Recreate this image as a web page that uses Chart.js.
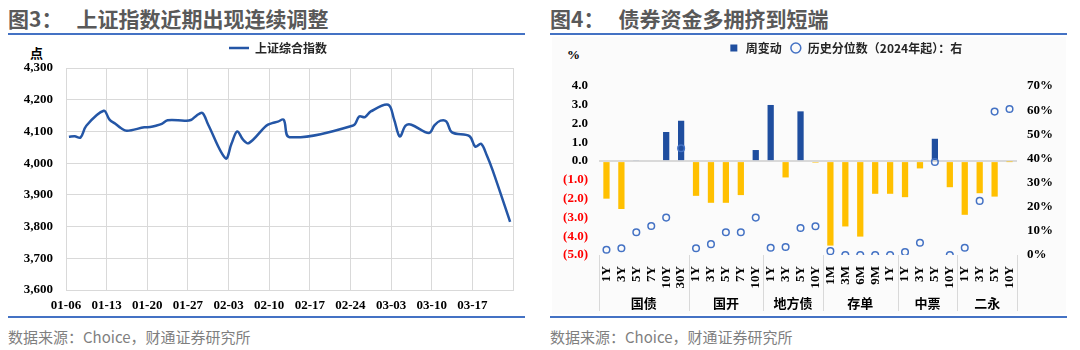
<!DOCTYPE html>
<html>
<head>
<meta charset="utf-8">
<script src="https://cdn.jsdelivr.net/npm/chart.js@4.4.1/dist/chart.umd.min.js"></script>
<style>
  body { margin: 0; width: 1080px; height: 350px; background: #fff; position: relative; overflow: hidden; font-family: "Noto Sans CJK SC", sans-serif; }
  .title { position: absolute; top: 8px; font-size: 21px; line-height: 21px; font-weight: bold; color: #595959; white-space: nowrap; }
  .rule { position: absolute; height: 2px; background: #4472C4; }
  .source { position: absolute; top: 329px; font-size: 15px; line-height: 15px; color: #7f7f7f; white-space: nowrap; }
  .unit { position: absolute; font-weight: bold; font-size: 13px; line-height: 13px; color: #000; }
  .panel { position: absolute; left: 552px; top: 37px; width: 514px; height: 277px; background: #fbfbfb; }
  canvas { position: absolute; }
</style>
</head>
<body>
<div class="title" style="left:8px">图3：<span style="margin-left:14px">上证指数近期出现连续调整</span></div>
<div class="title" style="left:550px">图4：<span style="margin-left:14px">债券资金多拥挤到短端</span></div>
<div class="rule" style="left:8px; top:33px; width:517px"></div>
<div class="rule" style="left:550px; top:33px; width:517px"></div>
<div class="panel"></div>
<div class="unit" style="left:30px; top:46px">点</div>
<div class="unit" style="left:567px; top:48px; font-family:'Liberation Serif', serif">%</div>
<canvas id="left" width="530" height="282" style="left:0; top:34px"></canvas>
<canvas id="right" width="540" height="282" style="left:540px; top:34px"></canvas>
<div class="rule" style="left:8px; top:316px; width:517px"></div>
<div class="rule" style="left:550px; top:316px; width:517px"></div>
<div class="source" style="left:8px">数据来源：Choice，财通证券研究所</div>
<div class="source" style="left:550px">数据来源：Choice，财通证券研究所</div>

<script>
// 上证综合指数 (交易日, 2026)
const lineDates = ['01-06', '01-07', '01-08', '01-09', '01-12', '01-13', '01-14', '01-15', '01-16',
  '01-19', '01-20', '01-21', '01-22', '01-23', '01-26', '01-27', '01-28', '01-29', '01-30',
  '02-02', '02-03', '02-04', '02-05', '02-06', '02-09', '02-10', '02-11', '02-12', '02-13',
  '02-24', '02-25', '02-26', '02-27', '03-02', '03-03', '03-04', '03-05', '03-06',
  '03-09', '03-10', '03-11', '03-12', '03-13', '03-16', '03-17', '03-18', '03-19', '03-20', '03-23'];
const lineValues = [4083, 4085, 4081, 4118, 4165, 4137, 4124, 4110, 4102,
  4113, 4114, 4118, 4124, 4135, 4134, 4136, 4150, 4158, 4121,
  4015, 4061, 4100, 4074, 4063, 4118, 4126, 4131, 4137, 4082,
  4119, 4147, 4145, 4163, 4184, 4139, 4084, 4118, 4121,
  4095, 4120, 4134, 4132, 4097, 4085, 4052, 4061, 4024, 3977, 3815];

// 债券资金周变动 / 历史分位数
const groups = ['国债', '国开', '地方债', '存单', '中票', '二永'];
const groupSizes = [6, 5, 4, 5, 4, 4];
const tenorLabels = ['1Y', '3Y', '5Y', '7Y', '10Y', '30Y',
  '1Y', '3Y', '5Y', '7Y', '10Y',
  '1Y', '3Y', '5Y', '10Y',
  '1M', '3M', '6M', '9M', '1Y',
  '1Y', '3Y', '5Y', '10Y',
  '1Y', '3Y', '5Y', '10Y'];
const weeklyChange = [-2.0, -2.55, 0.05, 0, 1.55, 2.15,
  -1.85, -2.22, -2.22, -1.81, 0.59,
  2.99, -0.87, 2.65, -0.08,
  -4.5, -3.48, -4.02, -1.74, -1.74,
  -1.92, -0.39, 1.19, -1.39,
  -2.86, -1.71, -1.89, -0.02];
const percentile = [2.2, 2.8, 9.4, 12, 15.5, 44.2,
  2.8, 4.5, 9.4, 9.4, 15.5,
  3.0, 3.3, 11.2, 11.9,
  1.6, 0, 0, 0, 0,
  1.2, 5.1, 38.5, 0,
  3.0, 22.4, 59.4, 60.5];

const SERIF = "'Liberation Serif', 'Times New Roman', serif";
const CJK = "'Noto Sans CJK SC', sans-serif";
Chart.defaults.font.family = SERIF;
Chart.defaults.color = '#000';

const start = Date.UTC(2026, 0, 6);
const DAY = 86400000;
const pad = n => String(n).padStart(2, '0');
function dayOf(md) {
  const [m, d] = md.split('-').map(Number);
  return (Date.UTC(2026, m - 1, d) - start) / DAY;
}
function labelOf(day) {
  const t = new Date(start + day * DAY);
  return pad(t.getUTCMonth() + 1) + '-' + pad(t.getUTCDate());
}

// legend height / horizontal centre
const legendPlace = {
  id: 'legendPlace',
  beforeInit(chart, args, opts) {
    const lg = chart.legend;
    const fit = lg.fit;
    lg.fit = function () { fit.call(this); this.height = opts.height; };
  },
  afterLayout(chart, args, opts) {
    const lg = chart.legend;
    const dx = opts.center - (lg.left + lg.right) / 2;
    lg.left += dx;
    lg.right += dx;
  }
};

// two-level category axis: group names + separators
const groupAxis = {
  id: 'groupAxis',
  afterDraw(chart) {
    const x = chart.scales.x;
    const ctx = chart.ctx;
    const top = chart.chartArea.bottom;
    const step = (x.right - x.left) / tenorLabels.length;
    ctx.save();
    ctx.strokeStyle = '#D9D9D9';
    ctx.lineWidth = 1;
    ctx.fillStyle = '#000';
    ctx.font = 'bold 13px ' + CJK;
    ctx.textAlign = 'center';
    ctx.textBaseline = 'middle';
    let i = 0;
    groupSizes.forEach((n, g) => {
      const l = x.getPixelForValue(i) - step / 2;
      const r = x.getPixelForValue(i + n - 1) + step / 2;
      ctx.beginPath();
      ctx.moveTo(Math.round(l) + 0.5, top);
      ctx.lineTo(Math.round(l) + 0.5, top + 56);
      ctx.stroke();
      ctx.fillText(groups[g], (l + r) / 2, top + 48);
      i += n;
    });
    ctx.beginPath();
    ctx.moveTo(Math.round(x.right) + 0.5, top);
    ctx.lineTo(Math.round(x.right) + 0.5, top + 56);
    ctx.stroke();
    ctx.restore();
  }
};

new Chart(document.getElementById('left'), {
  type: 'line',
  data: {
    datasets: [{
      label: '上证综合指数',
      data: lineDates.map((d, i) => ({ x: dayOf(d) + 0.5, y: lineValues[i] })),
      borderColor: '#2456A6',
      backgroundColor: '#2456A6',
      borderWidth: 2.5,
      pointRadius: 0,
      tension: 0.35
    }]
  },
  options: {
    responsive: false,
    animation: false,
    devicePixelRatio: 1,
    layout: { padding: { left: 0, right: 17, top: 0, bottom: 0 } },
    plugins: {
      legend: {
        labels: {
          usePointStyle: true,
          pointStyle: 'line',
          pointStyleWidth: 20,
          padding: 8,
          color: '#262626',
          font: { family: CJK, size: 12, weight: 'bold' }
        }
      },
      legendPlace: { height: 34, center: 278 },
      tooltip: { enabled: false }
    },
    scales: {
      x: {
        type: 'linear',
        min: 0,
        max: 77,
        afterFit: s => { s.height = 26; },
        grid: { color: '#D9D9D9', drawTicks: false },
        border: { color: '#D9D9D9' },
        ticks: {
          stepSize: 7,
          padding: 8,
          font: { size: 13, weight: 'bold' },
          callback: v => (v % 7 === 0 && v < 77 ? labelOf(v) : '')
        }
      },
      y: {
        min: 3600,
        max: 4300,
        afterFit: s => { s.width = 66; },
        grid: { color: '#D9D9D9', drawTicks: false },
        border: { color: '#D9D9D9' },
        ticks: {
          stepSize: 100,
          padding: 13,
          font: { size: 13, weight: 'bold' },
          callback: v => v.toLocaleString('en-US')
        }
      }
    }
  },
  plugins: [legendPlace]
});

new Chart(document.getElementById('right'), {
  type: 'bar',
  data: {
    labels: tenorLabels,
    datasets: [{
      type: 'bar',
      label: '周变动',
      data: weeklyChange,
      backgroundColor: c => (c.raw >= 0 ? '#1F4E9F' : '#FFC000'),
      barPercentage: 0.42,
      categoryPercentage: 1,
      yAxisID: 'y',
      order: 1
    }, {
      type: 'line',
      label: '历史分位数（2024年起）：右',
      data: percentile,
      showLine: false,
      pointStyle: 'circle',
      pointRadius: 3.3,
      borderWidth: 1.5,
      borderColor: '#4472C4',
      backgroundColor: 'rgba(255,255,255,0)',
      yAxisID: 'y1',
      order: 0
    }]
  },
  options: {
    responsive: false,
    animation: false,
    devicePixelRatio: 1,
    layout: { padding: 0 },
    plugins: {
      legend: {
        labels: {
          usePointStyle: true,
          boxHeight: 7,
          padding: 8,
          color: '#262626',
          font: { family: CJK, size: 12, weight: 'bold' },
          sort: (a, b) => a.datasetIndex - b.datasetIndex,
          generateLabels: chart => Chart.defaults.plugins.legend.labels.generateLabels(chart).map(l => {
            if (l.datasetIndex === 0) { l.fillStyle = '#1F4E9F'; l.strokeStyle = '#1F4E9F'; l.pointStyle = 'rect'; }
            return l;
          })
        }
      },
      legendPlace: { height: 52, center: 305 },
      tooltip: { enabled: false }
    },
    scales: {
      x: {
        afterFit: s => { s.height = 61; },
        grid: { display: false },
        border: { display: false },
        ticks: {
          autoSkip: false,
          minRotation: 90,
          maxRotation: 90,
          padding: 3,
          font: { size: 13, weight: 'bold' }
        }
      },
      y: {
        min: -5,
        max: 4,
        afterFit: s => { s.width = 59; },
        grid: {
          drawTicks: false,
          lineWidth: 2,
          color: c => (c.tick && c.tick.value === 0 ? '#D9D9D9' : 'rgba(0,0,0,0)')
        },
        border: { display: false },
        ticks: {
          stepSize: 1,
          padding: 11,
          font: { size: 13, weight: 'bold' },
          color: c => (c.tick.value < 0 ? '#FF0000' : '#000'),
          callback: v => (v < 0 ? '(' + (-v).toFixed(1) + ')' : v.toFixed(1))
        }
      },
      y1: {
        position: 'right',
        min: 0,
        max: 70,
        afterFit: s => { s.width = 63; },
        grid: { display: false, drawTicks: false },
        border: { display: false },
        ticks: {
          stepSize: 10,
          padding: 10,
          font: { size: 13, weight: 'bold' },
          callback: v => v + '%'
        }
      }
    }
  },
  plugins: [legendPlace, groupAxis]
});
</script>
</body>
</html>
